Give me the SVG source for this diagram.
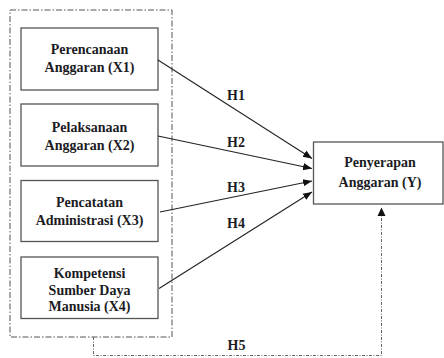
<svg xmlns="http://www.w3.org/2000/svg" width="444" height="358" viewBox="0 0 444 358">
<style>
.box{fill:#fff;stroke:#555;stroke-width:1.3}
.t{font-family:'Liberation Serif','Times New Roman','DejaVu Serif',serif;font-weight:bold;font-size:14px;fill:#1c1c24;text-anchor:middle}
.c{stroke:#222;stroke-width:1.1;fill:none}
.dd{stroke:#555;stroke-width:1;fill:none;stroke-dasharray:6 2 1.5 2}
.dd2{stroke:#666;stroke-width:1;fill:none;stroke-dasharray:3 1.5 1 1.5}
</style>
<defs>
<marker id="ah" viewBox="0 0 10 10" refX="10" refY="5" markerWidth="9" markerHeight="9" markerUnits="userSpaceOnUse" orient="auto">
<path d="M0,1 L10,5 L0,9 Z" fill="#111"/>
</marker>
</defs>
<rect width="444" height="358" fill="#fff"/>
<g id="group-x">
<rect x="10" y="10" width="162" height="327" class="dd"/>
</g>
<g id="x1">
<rect class="box" x="21" y="28" width="137" height="62"/>
<text class="t" x="89.5" y="53.5">Perencanaan</text>
<text class="t" x="89.5" y="72">Anggaran (X1)</text>
</g>
<g id="x2">
<rect class="box" x="21" y="104" width="137" height="62"/>
<text class="t" x="89.5" y="131.5">Pelaksanaan</text>
<text class="t" x="89.5" y="149.5">Anggaran (X2)</text>
</g>
<g id="x3">
<rect class="box" x="21" y="180.5" width="137" height="61"/>
<text class="t" x="89.5" y="206.5">Pencatatan</text>
<text class="t" x="89.5" y="224.5">Administrasi (X3)</text>
</g>
<g id="x4">
<rect class="box" x="21" y="257" width="137" height="61.5"/>
<text class="t" x="89.5" y="278">Kompetensi</text>
<text class="t" x="89.5" y="295">Sumber Daya</text>
<text class="t" x="89.5" y="311">Manusia (X4)</text>
</g>
<g id="y">
<rect class="box" x="313.5" y="142" width="129.5" height="62"/>
<text class="t" x="380" y="167">Penyerapan</text>
<text class="t" x="380" y="186.5">Anggaran (Y)</text>
</g>
<g id="connectors">
<line class="c" x1="158" y1="60" x2="312" y2="158.5" marker-end="url(#ah)"/>
<line class="c" x1="158" y1="136" x2="312" y2="168.5" marker-end="url(#ah)"/>
<line class="c" x1="160" y1="212" x2="312" y2="181" marker-end="url(#ah)"/>
<line class="c" x1="159" y1="288.5" x2="312" y2="192" marker-end="url(#ah)"/>
<path class="dd2" d="M93.5,337 V355.5 H381.5 V210"/>
<path d="M377.5,216 L381.5,207.5 L385.5,216 Z" fill="#111"/>
<text class="t" x="236" y="100">H1</text>
<text class="t" x="236" y="147">H2</text>
<text class="t" x="236" y="191.5">H3</text>
<text class="t" x="236" y="227.5">H4</text>
<text class="t" x="236.5" y="350">H5</text>
</g>
</svg>
